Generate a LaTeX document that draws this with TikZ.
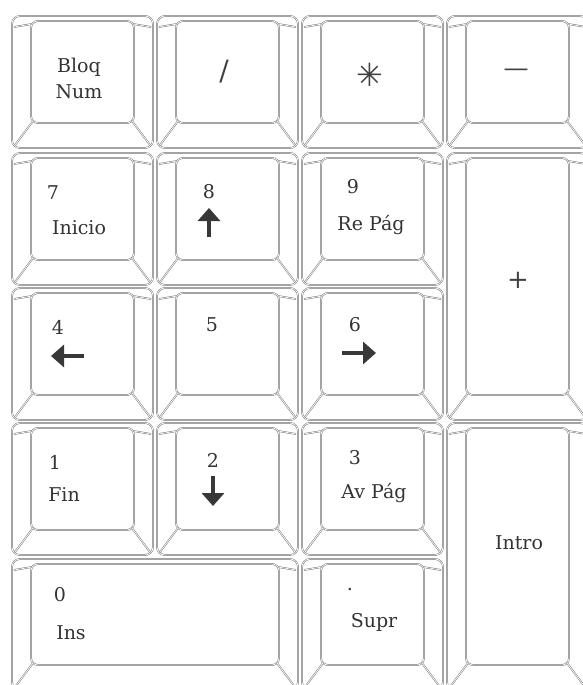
\documentclass[tikz,border=0pt]{standalone}
\usepackage{fontspec}
\setmainfont{DejaVu Serif}
\newfontfamily\symfont{DejaVu Sans}
\usetikzlibrary{arrows.meta}
\tikzset{
  keyline/.style={draw=black!55, line width=0.5pt, double=white, double distance=0.7pt},
  lbl/.style={text=black!80, font=\fontsize{19}{22}\selectfont, inner sep=0pt},
  sym/.style={text=black!75, inner sep=0pt},
  karrow/.style={draw=black!78, line width=3.4pt, -{Triangle[width=22pt,length=13pt]}}
}
\newcommand\keycap[4]{%
  \draw[keyline, rounded corners=8pt] (#1,#2) rectangle (#3,#4);
  \draw[keyline, rounded corners=7pt] ({#1+19},{#2+5}) rectangle ({#3-19},{#4-25});
  \draw[keyline] ({#1+21},{#4-27}) -- ({#1+3},{#4-3});
  \draw[keyline] ({#3-21},{#4-27}) -- ({#3-3},{#4-3});
  \draw[keyline] ({#1+20},{#2+8}) -- ({#1+2},{#2+11});
  \draw[keyline] ({#3-20},{#2+8}) -- ({#3-2},{#2+11});
}
\begin{document}
\begin{tikzpicture}[x=1pt,y=-1pt]
\useasboundingbox (0,0) rectangle (583,685);
\fill[white] (0,0) rectangle (583,685);
\clip (0,0) rectangle (583,685);
% row 1
\keycap{12}{16}{153}{148}
\keycap{157}{16}{298}{148}
\keycap{302}{16}{443}{148}
\keycap{447}{16}{588}{148}
% row 2
\keycap{12}{153}{153}{285}
\keycap{157}{153}{298}{285}
\keycap{302}{153}{443}{285}
\keycap{447}{153}{588}{420}
% row 3
\keycap{12}{288}{153}{420}
\keycap{157}{288}{298}{420}
\keycap{302}{288}{443}{420}
% row 4
\keycap{12}{423}{153}{555}
\keycap{157}{423}{298}{555}
\keycap{302}{423}{443}{555}
\keycap{447}{423}{588}{690}
% row 5
\keycap{12}{559}{298}{690}
\keycap{302}{559}{443}{690}

% labels
\node[lbl] (bloq) at (79,67) {Bloq};
\node[lbl] (num) at (79,92) {Num};
\node[sym, font=\fontsize{28}{30}\selectfont] (slash) at (224,72) {/};
\node[sym, font=\symfont\fontsize{32}{34}\selectfont] (ast) at (370,75) {✳};
\node[sym, font=\fontsize{25}{27}\selectfont] (minus) at (516,73) {—};

\node[lbl] (n7) at (53,193) {7};
\node[lbl] (inicio) at (79,228) {Inicio};
\node[lbl] (n8) at (209,192) {8};
\coordinate (up1) at (209,237);
\coordinate (up2) at (209,208);
\draw[karrow] (up1) -- (up2);
\node[lbl] (n9) at (353,187) {9};
\node[lbl] (repag) at (371,225) {Re Pág};
\node[sym, font=\fontsize{26}{28}\selectfont] (plus) at (518,280) {+};

\node[lbl] (n4) at (58,327) {4};
\coordinate (l1) at (84,356);
\coordinate (l2) at (51,356);
\draw[karrow] (l1) -- (l2);
\node[lbl] (n5) at (212,325) {5};
\node[lbl] (n6) at (355,325) {6};
\coordinate (r1) at (342,353);
\coordinate (r2) at (376,353);
\draw[karrow] (r1) -- (r2);

\node[lbl] (n1) at (55,462) {1};
\node[lbl] (fin) at (64,495) {Fin};
\node[lbl] (n2) at (213,460) {2};
\coordinate (d1) at (213,476);
\coordinate (d2) at (213,506);
\draw[karrow] (d1) -- (d2);
\node[lbl] (n3) at (355,458) {3};
\node[lbl] (avpag) at (374,493) {Av Pág};
\node[lbl] (intro) at (519,543) {Intro};

\node[lbl] (n0) at (60,595) {0};
\node[lbl] (ins) at (71,633) {Ins};
\node[lbl] (dot) at (350,590) {.};
\node[lbl] (supr) at (374,622) {Supr};
\end{tikzpicture}
\end{document}
